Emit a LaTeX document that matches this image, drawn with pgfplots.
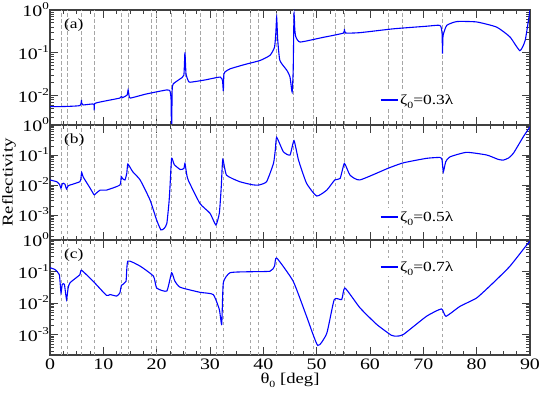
\documentclass[border=0pt]{standalone}
\usepackage{fontspec}
\setmainfont{Liberation Serif}[FakeStretch=1.25]
\usepackage{pgfplots}
\pgfplotsset{compat=1.18}
\newcommand\tsup[1]{\raisebox{0.44em}{\fontsize{10.5}{12}\selectfont #1}}
\newcommand\tsub[1]{\raisebox{-0.28em}{\fontsize{9.5}{11}\selectfont #1}}

\pgfplotsset{
  reflpanel/.style={
    scale only axis, width=480bp, height=115bp,
    xmin=0, xmax=90, ymax=1,
    xtick={0,10,...,90}, minor x tick num=3,
    tick align=inside,
    major tick length=8bp, minor tick length=4bp,
    axis line style={line width=1.1bp, black!75},
    every tick/.style={black!75, line width=0.9bp},
    yticklabel={10\tsup{\pgfmathparse{int(round(\tick))}\pgfmathresult}},
    yticklabel style={inner sep=1bp, font=\fontsize{16}{18}\selectfont},
    xticklabel style={font=\fontsize{16}{18}\selectfont},
    /pgf/number format/assume math mode=true,
    extra x ticks={2.2,3.3,5.9,8.3,13.4,14.7,18.9,20.0,22.8,25.3,28.1,31.1,32.5,37.5,39.1,42.5,45.6,49.3,53.4,55.2,63.4,66.1,73.6},
    extra x tick labels={},
    extra x tick style={grid=major, major tick length=0pt,
      major grid style={black!35, line width=0.5bp, dash pattern=on 3.5bp off 2.5bp}},
    legend style={draw=none, fill=white, anchor=center,
      font=\fontsize{14}{16}\selectfont, inner sep=1bp},
    legend cell align=left,
  },
}
\tikzset{plabel/.style={anchor=west, font=\fontsize{14}{16}\selectfont}}

\begin{document}
\begin{tikzpicture}
\path[use as bounding box] (-50bp,-39bp) rectangle (490bp,355bp);

% (a)
\begin{axis}[ymode=log, log basis y=10, reflpanel, at={(0,230bp)}, anchor=south west, ymin=0.00204,
  xticklabels={}, legend style={at={(0.766,0.217)}}]
\addplot[blue, line width=1.1bp, smooth, tension=0.3] coordinates {
(0,0.0055) (2.0,0.0055) (4.0,0.0056) (5.6,0.0058) (5.85,0.0068) (5.9,0.0079) (5.95,0.0066) (6.2,0.006)
(8.2,0.0063) (8.28,0.0045) (8.4,0.0065) (10.5,0.0075) (13.1,0.0087) (13.4,0.0095) (13.6,0.0089)
(14.45,0.0102) (14.65,0.0135) (14.85,0.0095) (15.1,0.0087) (18,0.0108) (21.9,0.0135) (22.5,0.0126)
(22.7,0.008) (22.8,0.001) (22.9,0.0126) (23.1,0.0186) (24.4,0.0245) (25.1,0.030) (25.3,0.102)
(25.5,0.032) (25.9,0.0224) (26.25,0.0204) (29,0.023) (31.9,0.027) (32.35,0.022) (32.5,0.0126)
(32.6,0.0316) (32.8,0.0355) (33.75,0.042) (36.5,0.053) (39.4,0.066) (41.25,0.087) (42.1,0.135)
(42.35,0.3) (42.5,0.68) (42.7,0.2) (43.1,0.066) (44.4,0.039) (45.0,0.027) (45.4,0.012) (45.6,0.04)
(45.75,0.81) (45.9,0.35) (46.1,0.234) (46.9,0.178) (51,0.226) (55.0,0.288) (55.2,0.363) (55.4,0.29)
(58.1,0.295) (64.4,0.363) (70.6,0.417) (73.1,0.437) (73.5,0.3) (73.6,0.0955) (73.7,0.25) (74.4,0.437)
(76.3,0.537) (80.0,0.525) (83.75,0.398) (86.25,0.234) (88.1,0.112) (89.1,0.195) (90,1.0)
};
\addlegendentry{ζ\tsub{0}=0.3λ}
\node[plabel] at (rel axis cs:0.022,0.87) {(a)};
\end{axis}

% (b)
\begin{axis}[ymode=log, log basis y=10, reflpanel, at={(0,115bp)}, anchor=south west, ymin=0.000148,
  xticklabels={}, legend style={at={(0.766,0.2)}}]
\addplot[blue, line width=1.1bp, smooth, tension=0.3] coordinates {
(0,0.0148) (1.25,0.0129) (1.8,0.0105) (2.06,0.0078) (2.3,0.011) (2.5,0.0115) (2.8,0.0107) (3.1,0.0074)
(3.4,0.0095) (3.75,0.0100) (5.6,0.0129) (5.8,0.017) (5.94,0.0263) (6.2,0.019) (6.56,0.0148)
(7.5,0.008) (8.2,0.0049) (8.3,0.0047) (9.4,0.0068) (10.6,0.0068) (13.1,0.010) (13.35,0.019) (13.6,0.0165)
(14.06,0.0148) (14.4,0.025) (14.6,0.050) (15.5,0.028) (16.9,0.0148) (18.75,0.0032) (20.0,0.00068) (20.8,0.00032)
(21.4,0.00036) (21.9,0.00052) (22.3,0.0025) (22.5,0.0087) (22.8,0.078) (23.3,0.048) (24.4,0.033)
(25.1,0.0355) (25.3,0.0525) (25.6,0.025) (25.9,0.0148) (28.1,0.00245) (30.0,0.00115) (31.1,0.00047)
(31.75,0.00115) (32.1,0.008) (32.4,0.072) (33.1,0.0214) (35.6,0.0129) (38,0.0102) (39.1,0.0100)
(40.6,0.0129) (41.9,0.0525) (42.25,0.15) (42.5,0.389) (43.75,0.129) (45.0,0.10) (45.75,0.302)
(46.6,0.0676) (48.1,0.0115) (50.0,0.0043) (51.9,0.0068) (53.4,0.0148) (54.4,0.0166) (55.2,0.0525)
(56.25,0.0214) (58.1,0.0148) (63.4,0.0363) (66.25,0.055) (70.6,0.0776) (73.1,0.0832) (73.5,0.07)
(73.75,0.0275) (74.2,0.06) (75.0,0.0871) (78.1,0.123) (81.9,0.100) (84,0.072) (85.0,0.0676) (86,0.08)
(86.9,0.115) (88.75,0.407) (90,0.871)
};
\addlegendentry{ζ\tsub{0}=0.5λ}
\node[plabel] at (rel axis cs:0.022,0.87) {(b)};
\end{axis}

% (c)
\begin{axis}[ymode=log, log basis y=10, reflpanel, at={(0,0)}, anchor=south west, ymin=0.000224,
  legend style={at={(0.766,0.765)}}]
\addplot[blue, line width=1.1bp, smooth, tension=0.3] coordinates {
(0,0.132) (0.94,0.115) (1.75,0.079) (2.06,0.021) (2.3,0.039) (2.7,0.039) (3.1,0.0129) (3.4,0.03)
(3.75,0.044) (5.6,0.079) (5.9,0.110) (8.1,0.049) (10.6,0.0174) (11.25,0.0186) (12.5,0.0166)
(13.1,0.0209) (13.4,0.0363) (14.25,0.049) (14.6,0.214) (16.9,0.148) (19.4,0.071) (20.0,0.030)
(21.9,0.024) (22.8,0.091) (23.4,0.05) (24.4,0.0316) (28.1,0.0219) (30.6,0.0186) (31.75,0.0062)
(32.2,0.0021) (32.5,0.044) (33.75,0.091) (36.9,0.098) (41.25,0.102) (42.1,0.148) (42.5,0.269)
(45.6,0.049) (48.1,0.0038) (50.2,0.00045) (51.9,0.0011) (53.3,0.0129) (54.7,0.0129) (55.3,0.030)
(58.1,0.0071) (61.25,0.0021) (64,0.00095) (65.0,0.00089) (66.25,0.0010) (70.6,0.0038) (73.4,0.0065)
(74.25,0.0038) (76.9,0.0079) (80.0,0.0145) (83.1,0.0437) (86.25,0.148) (89.7,0.813) (90,0.9)
};
\addlegendentry{ζ\tsub{0}=0.7λ}
\node[plabel] at (rel axis cs:0.022,0.87) {(c)};
\end{axis}

\node[rotate=90, font=\fontsize{15}{17}\selectfont] at (-41bp,172.5bp) {Reflectivity};
\node[font=\fontsize{15}{17}\selectfont] at (240bp,-25bp) {θ\tsub{0} [deg]};
\end{tikzpicture}
\end{document}
